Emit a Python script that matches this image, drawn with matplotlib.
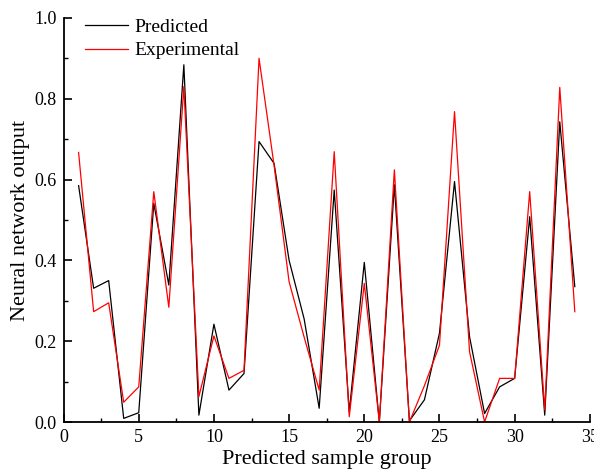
import matplotlib
matplotlib.use("Agg")
import matplotlib.pyplot as plt
from matplotlib.ticker import MultipleLocator

samples = list(range(1, 35))
predicted = [0.585, 0.331, 0.35, 0.009, 0.023, 0.541, 0.339, 0.884, 0.017, 0.242,
             0.079, 0.12, 0.694, 0.64, 0.40, 0.255, 0.034, 0.574, 0.025, 0.395,
             0.0, 0.587, 0.003, 0.055, 0.22, 0.595, 0.211, 0.021, 0.087, 0.108,
             0.508, 0.017, 0.743, 0.335]
experimental = [0.667, 0.273, 0.295, 0.049, 0.087, 0.57, 0.284, 0.83, 0.063, 0.213,
                0.108, 0.128, 0.90, 0.635, 0.347, 0.21, 0.079, 0.669, 0.013, 0.343,
                0.0, 0.624, 0.0, 0.09, 0.19, 0.768, 0.174, 0.0, 0.108, 0.108,
                0.57, 0.03, 0.828, 0.273]

plt.rcParams['font.family'] = ['Liberation Serif', 'DejaVu Serif']

fig = plt.figure(figsize=(5.94, 4.71), dpi=100)
ax = fig.add_axes([0.107, 0.104, 0.886, 0.858])

ax.plot(samples, predicted, color='black', lw=0.9, label='Predicted')
ax.plot(samples, experimental, color='red', lw=0.9, label='Experimental')

ax.set_xlim(0, 35)
ax.set_ylim(0, 1.0)
ax.xaxis.set_major_locator(MultipleLocator(5))
ax.xaxis.set_minor_locator(MultipleLocator(2.5))
ax.yaxis.set_major_locator(MultipleLocator(0.2))
ax.yaxis.set_minor_locator(MultipleLocator(0.1))
ax.yaxis.set_major_formatter(matplotlib.ticker.FormatStrFormatter('%.1f'))

for s in ['top', 'right']:
    ax.spines[s].set_visible(False)
for s in ['left', 'bottom']:
    ax.spines[s].set_linewidth(1.3)

ax.tick_params(which='major', direction='in', length=6, width=1.2, labelsize=13)
ax.tick_params(axis='x', which='major', pad=5)
ax.tick_params(axis='y', which='major', pad=5)
ax.tick_params(which='minor', direction='in', length=3, width=1.0)

ax.set_xlabel('Predicted sample group', fontsize=16, labelpad=3)
ax.set_ylabel('Neural network output', fontsize=16, labelpad=3)

ax.legend(loc='upper left', frameon=False, fontsize=14, handlelength=2.2,
          handletextpad=0.35, borderaxespad=0.0, labelspacing=0.3,
          bbox_to_anchor=(0.026, 1.018))

fig.savefig('out.png', dpi=100)
